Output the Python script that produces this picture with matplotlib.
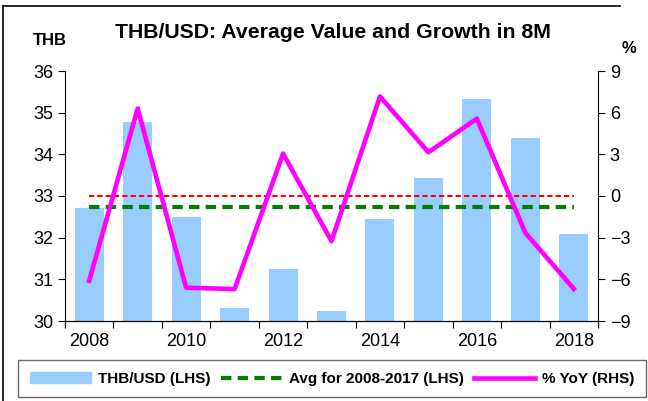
import matplotlib.pyplot as plt
import numpy as np
from matplotlib.patches import Rectangle
from matplotlib.lines import Line2D

plt.rcParams['font.family'] = ['Liberation Sans', 'DejaVu Sans']

years = [2008, 2009, 2010, 2011, 2012, 2013, 2014, 2015, 2016, 2017, 2018]
thb_usd = [32.70, 34.77, 32.49, 30.31, 31.25, 30.25, 32.44, 33.44, 35.32, 34.39, 32.09]
yoy = [-6.1, 6.3, -6.6, -6.7, 3.05, -3.25, 7.17, 3.15, 5.57, -2.65, -6.68]
avg_08_17 = np.mean(thb_usd[:10])
ref_level = 33

fig = plt.figure(figsize=(6.48, 4.01), dpi=100)
ax = fig.add_axes([65 / 648, 1 - 321 / 401, 533 / 648, 250 / 401])
x = np.arange(len(years))

ax.bar(x, [v - 30 for v in thb_usd], bottom=30, width=0.6, color='#99CCFF', zorder=1)
ax.plot([x[0], x[-1]], [ref_level, ref_level], color='red', ls=(0, (2.5, 1.5)), lw=1.5, zorder=2)
ax.plot([x[0], x[-1]], [avg_08_17, avg_08_17], color='green', ls=(0, (2.5, 1.5)), lw=3, zorder=2)
ax.set_xlim(-0.5, len(years) - 0.5)
ax.set_ylim(30, 36)
ax.set_yticks(np.arange(30, 37, 1))
ax.set_xticks(np.arange(-0.5, len(years), 1))
ax.set_xticklabels([])
ax.set_xticks(x[::2], minor=True)
ax.set_xticklabels([str(y) for y in years[::2]], minor=True)
ax.tick_params(axis='x', which='minor', length=0, labelsize=13, pad=9)
ax.tick_params(axis='x', which='major', length=5, direction='out')
ax.tick_params(axis='y', labelsize=13, length=5)
ax.spines['top'].set_visible(False)
ax.spines['right'].set_visible(False)

ax2 = ax.twinx()
ax2.plot(x, yoy, color='#FF00FF', lw=3.3, zorder=3)
ax2.set_ylim(-9, 9)
ax2.set_yticks(np.arange(-9, 10, 3))
ax2.tick_params(axis='y', labelsize=13, length=5)
ax2.spines['top'].set_visible(False)
ax2.spines['left'].set_visible(False)

fig.text(0.514, 0.918, 'THB/USD: Average Value and Growth in 8M', ha='center', va='center',
         fontsize=15.3, fontweight='bold')
fig.text(0.077, 0.898, 'THB', ha='center', va='center', fontsize=12, fontweight='bold')
fig.text(0.971, 0.878, '%', ha='center', va='center', fontsize=12, fontweight='bold')

handles = [Rectangle((0, 0), 1, 1, color='#99CCFF'),
           Line2D([], [], color='green', ls=(0, (2.5, 1.5)), lw=3),
           Line2D([], [], color='#FF00FF', lw=3.3)]
labels = ['THB/USD (LHS)', 'Avg for 2008-2017 (LHS)', '% YoY (RHS)']
leg = fig.legend(handles, labels, loc='center', bbox_to_anchor=(0.5125, 0.055), ncol=3,
                 frameon=True, fancybox=False, edgecolor='#444444', handlelength=4.0,
                 columnspacing=0.7, handletextpad=0.45, borderpad=0.75,
                 prop={'weight': 'bold', 'size': 11})
leg.get_frame().set_linewidth(1)

# outer frame: left and top edges only
fig.add_artist(Line2D([3 / 648, 3 / 648], [0, 1 - 6 / 401], transform=fig.transFigure,
                      color='black', lw=1.2))
fig.add_artist(Line2D([3 / 648, 620 / 648], [1 - 6 / 401, 1 - 6 / 401], transform=fig.transFigure,
                      color='black', lw=1.2))

fig.savefig('out.png', dpi=100)
